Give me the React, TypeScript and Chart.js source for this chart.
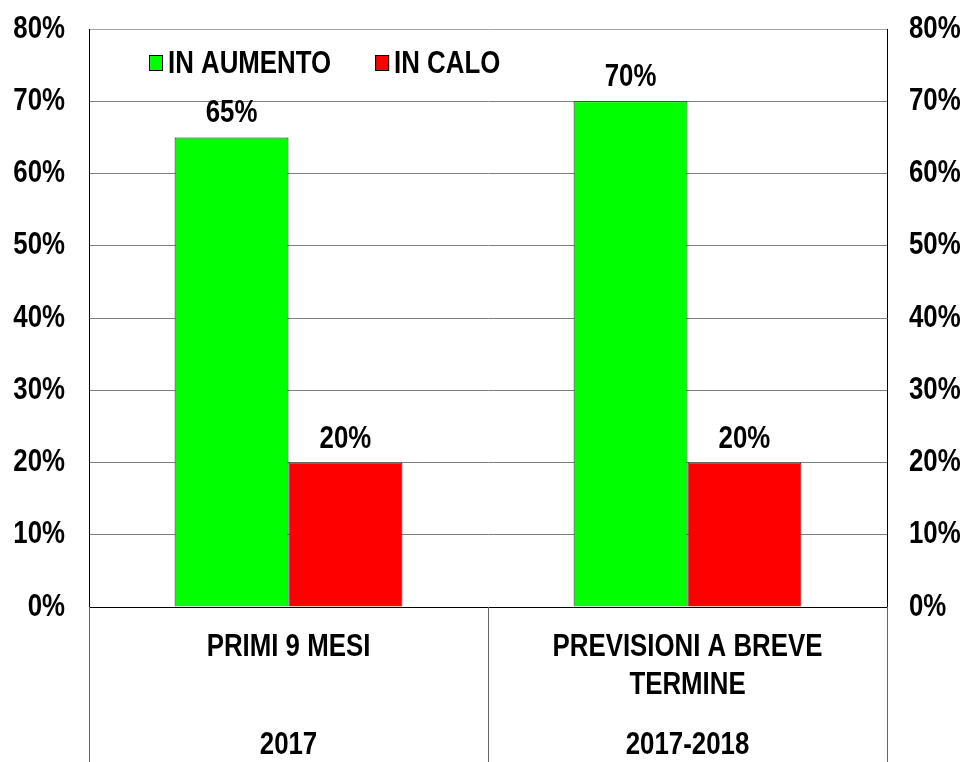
import React, { useEffect, useRef } from 'react';
import { Chart, registerables } from 'chart.js';

Chart.register(...registerables);

const categories = [['PRIMI 9 MESI'], ['PREVISIONI A BREVE', 'TERMINE']];
const periods = ['2017', '2017-2018'];
const seriesNames = ['IN AUMENTO', 'IN CALO'];
const inAumento = [65, 70];
const inCalo = [20, 20];
const seriesColors = ['#00FF00', '#FF0000'];
const yMin = 0;
const yMax = 80;
const yStep = 10;

const FAMILY = '"Liberation Sans Narrow", "Arial Narrow", "Liberation Sans", Arial, sans-serif';
const FONT_SIZE = 31.5;
// horizontal condensing to emulate a narrow face
const SX = 0.82;

const separatorsPlugin = {
  id: 'separators',
  afterDraw(chart: any) {
    const xs = chart.scales.x;
    const a = chart.chartArea;
    const n = xs.getLabels().length;
    const ctx = chart.ctx;
    ctx.save();
    ctx.strokeStyle = '#666666';
    ctx.lineWidth = 1;
    for (let i = 0; i <= n; i++) {
      let px: number;
      if (i === 0) px = a.left;
      else if (i === n) px = a.right;
      else px = (xs.getPixelForValue(i - 1) + xs.getPixelForValue(i)) / 2;
      px = Math.round(px) + 0.5;
      ctx.beginPath();
      ctx.moveTo(px, a.bottom);
      ctx.lineTo(px, chart.height);
      ctx.stroke();
    }
    ctx.restore();
  },
};

const valueLabelsPlugin = {
  id: 'valueLabels',
  afterDatasetsDraw(chart: any) {
    const ctx = chart.ctx;
    ctx.save();
    ctx.font = `bold ${FONT_SIZE}px ${FAMILY}`;
    ctx.fillStyle = '#000';
    ctx.textAlign = 'center';
    ctx.textBaseline = 'alphabetic';
    chart.data.datasets.forEach((ds: any, di: number) => {
      const meta = chart.getDatasetMeta(di);
      meta.data.forEach((el: any, i: number) => {
        ctx.fillText(`${ds.data[i]}%`, el.x, el.y - 15);
      });
    });
    ctx.restore();
  },
};

const insideLegendPlugin = {
  id: 'insideLegend',
  afterDraw(chart: any) {
    const ctx = chart.ctx;
    const a = chart.chartArea;
    ctx.save();
    ctx.font = `bold ${FONT_SIZE}px ${FAMILY}`;
    ctx.textBaseline = 'middle';
    ctx.textAlign = 'left';
    let x = a.left + 60;
    const cy = a.top + 34;
    chart.data.datasets.forEach((ds: any) => {
      ctx.fillStyle = ds.backgroundColor;
      ctx.fillRect(x, cy - 8, 14, 16);
      ctx.strokeStyle = '#000';
      ctx.lineWidth = 1;
      ctx.strokeRect(x + 0.5, cy - 7.5, 13, 15);
      ctx.fillStyle = '#000';
      ctx.fillText(ds.label, x + 19, cy + 1);
      x += 19 + ctx.measureText(ds.label).width + 44;
    });
    ctx.restore();
  },
};

function condenseText(ctx: CanvasRenderingContext2D) {
  const origFill = ctx.fillText.bind(ctx);
  const origMeasure = ctx.measureText.bind(ctx);
  (ctx as any).fillText = (text: string, x: number, y: number) => {
    ctx.save();
    ctx.translate(x, y);
    ctx.scale(SX, 1);
    origFill(text, 0, 0);
    ctx.restore();
  };
  (ctx as any).measureText = (text: string) => {
    const m = origMeasure(text);
    return {
      width: m.width * SX,
      actualBoundingBoxAscent: m.actualBoundingBoxAscent,
      actualBoundingBoxDescent: m.actualBoundingBoxDescent,
      actualBoundingBoxLeft: m.actualBoundingBoxLeft * SX,
      actualBoundingBoxRight: m.actualBoundingBoxRight * SX,
      fontBoundingBoxAscent: m.fontBoundingBoxAscent,
      fontBoundingBoxDescent: m.fontBoundingBoxDescent,
    };
  };
}

export default function App() {
  const ref = useRef<HTMLCanvasElement>(null);

  useEffect(() => {
    document.body.style.overflow = 'hidden';
    const canvas = ref.current;
    if (!canvas) return;
    const c2d = canvas.getContext('2d');
    if (c2d) condenseText(c2d);
    const tickFont = { family: FAMILY, size: FONT_SIZE, weight: 'bold' as const };
    const chart = new Chart(canvas, {
      type: 'bar',
      data: {
        labels: categories as any,
        datasets: [
          {
            label: seriesNames[0],
            data: inAumento,
            backgroundColor: seriesColors[0],
            borderColor: '#222',
            borderWidth: 1,
            xAxisID: 'x',
            yAxisID: 'y',
          },
          {
            label: seriesNames[1],
            data: inCalo,
            backgroundColor: seriesColors[1],
            borderColor: '#222',
            borderWidth: 1,
            xAxisID: 'x',
            yAxisID: 'y',
          },
        ],
      },
      options: {
        animation: false,
        responsive: true,
        maintainAspectRatio: false,
        layout: { padding: { top: 0, left: 0, right: 0, bottom: 0 } },
        datasets: {
          bar: { barPercentage: 1, categoryPercentage: 0.571 },
        },
        plugins: {
          legend: { display: false },
          tooltip: { enabled: false },
        },
        scales: {
          x: {
            type: 'category',
            position: 'bottom',
            offset: true,
            grid: { display: false, drawTicks: false },
            border: { display: true, color: '#000', width: 1 },
            ticks: {
              color: '#000',
              font: { ...tickFont, lineHeight: '38px' },
              padding: 21,
              maxRotation: 0,
              autoSkip: false,
            },
          },
          x2: {
            type: 'category',
            position: 'bottom',
            labels: periods,
            offset: true,
            grid: { display: false, drawTicks: false },
            border: { display: false },
            ticks: {
              color: '#000',
              font: { ...tickFont, lineHeight: '31px' },
              padding: 5,
              maxRotation: 0,
              autoSkip: false,
            },
          },
          y: {
            position: 'left',
            min: yMin,
            max: yMax,
            ticks: {
              stepSize: yStep,
              color: '#000',
              font: { ...tickFont, lineHeight: '10px' },
              padding: 24,
              callback: (v: any) => `${v}%`,
            },
            grid: {
              drawTicks: false,
              color: (c: any) => (c.tick && c.tick.value === yMax ? '#a6a6a6' : '#808080'),
              lineWidth: 1,
            },
            border: { display: true, color: '#000', width: 1 },
            afterFit: (s: any) => {
              s.width = 89;
            },
          },
          y2: {
            position: 'right',
            min: yMin,
            max: yMax,
            ticks: {
              stepSize: yStep,
              color: '#000',
              font: { ...tickFont, lineHeight: '10px' },
              padding: 22,
              callback: (v: any) => `${v}%`,
            },
            grid: { drawOnChartArea: false, drawTicks: false },
            border: { display: true, color: '#000', width: 1 },
            afterFit: (s: any) => {
              s.width = 80;
            },
          },
        },
      } as any,
      plugins: [separatorsPlugin, valueLabelsPlugin, insideLegendPlugin],
    });
    return () => chart.destroy();
  }, []);

  return (
    <div style={{ position: 'fixed', left: 0, top: 0, width: 967, height: 766, background: '#fff' }}>
      <canvas ref={ref} />
    </div>
  );
}
